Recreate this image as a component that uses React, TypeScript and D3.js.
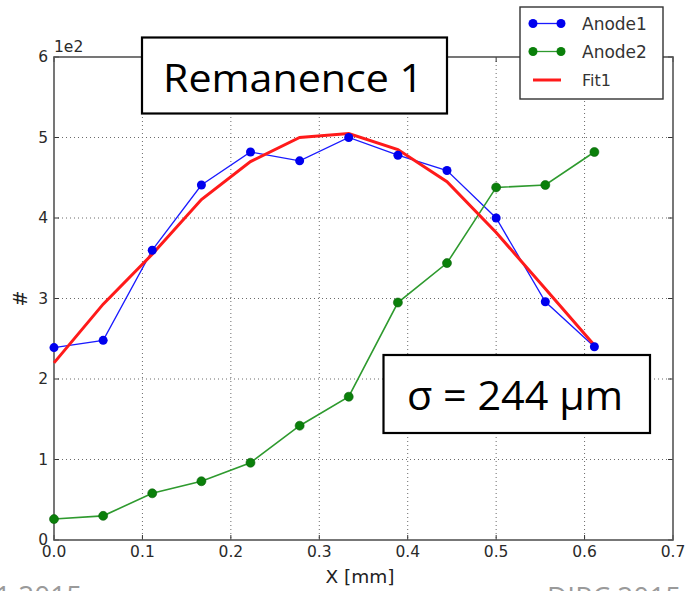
import React from "react";
import * as d3 from "d3";

// Positions along the scan (mm)
const xPos = [0, 0.0556, 0.1111, 0.1667, 0.2222, 0.2778, 0.3333, 0.3889, 0.4444, 0.5, 0.5556, 0.6111];
// Counts, in units of 1e2
const anode1 = [2.39, 2.48, 3.6, 4.41, 4.82, 4.71, 5.0, 4.78, 4.59, 4.0, 2.96, 2.4];
const anode2 = [0.26, 0.3, 0.58, 0.73, 0.96, 1.42, 1.78, 2.95, 3.44, 4.38, 4.41, 4.82];
const fit1 = [2.2, 2.93, 3.55, 4.23, 4.7, 5.0, 5.05, 4.85, 4.45, 3.82, 3.12, 2.42];

const xTicks = [0, 0.1, 0.2, 0.3, 0.4, 0.5, 0.6, 0.7];
const yTicks = [0, 1, 2, 3, 4, 5, 6];

const W = 685;
const H = 591;
const M = { left: 54, top: 57, right: 673, bottom: 540 };

const tickFont = "'DejaVu Sans', sans-serif";
const boxFont = "'Open Sans', 'Liberation Sans', sans-serif";

export default function App() {
  const x = d3.scaleLinear().domain([0, 0.7]).range([M.left, M.right]);
  const y = d3.scaleLinear().domain([0, 6]).range([M.bottom, M.top]);

  const line = d3
    .line<number>()
    .x((_, i) => x(xPos[i]))
    .y((d) => y(d));

  const gridColor = "#6a6a6a";
  const tickLen = 5;

  return (
    <svg
      width={W}
      height={H}
      style={{ position: "absolute", left: 0, top: 0, background: "#fff" }}
    >
      <rect x={0} y={0} width={W} height={H} fill="#fff" />

      {/* grid */}
      <g stroke={gridColor} strokeWidth={1} strokeDasharray="1,3">
        {xTicks.slice(1, -1).map((t) => (
          <line key={"gx" + t} x1={x(t)} x2={x(t)} y1={M.top} y2={M.bottom} />
        ))}
        {yTicks.slice(1, -1).map((t) => (
          <line key={"gy" + t} x1={M.left} x2={M.right} y1={y(t)} y2={y(t)} />
        ))}
      </g>

      {/* inward ticks */}
      <g stroke="#333" strokeWidth={1}>
        {xTicks.map((t) => (
          <g key={"tx" + t}>
            <line x1={x(t)} x2={x(t)} y1={M.bottom} y2={M.bottom - tickLen} />
            <line x1={x(t)} x2={x(t)} y1={M.top} y2={M.top + tickLen} />
          </g>
        ))}
        {yTicks.map((t) => (
          <g key={"ty" + t}>
            <line x1={M.left} x2={M.left + tickLen} y1={y(t)} y2={y(t)} />
            <line x1={M.right} x2={M.right - tickLen} y1={y(t)} y2={y(t)} />
          </g>
        ))}
      </g>

      {/* frame */}
      <rect
        x={M.left}
        y={M.top}
        width={M.right - M.left}
        height={M.bottom - M.top}
        fill="none"
        stroke="#555"
        strokeWidth={1.6}
      />

      {/* tick labels */}
      <g fontFamily={tickFont} fontSize={15.5} fill="#2a2a2a">
        {xTicks.map((t) => (
          <text key={"lx" + t} x={x(t)} y={557} textAnchor="middle">
            {t.toFixed(1)}
          </text>
        ))}
        {yTicks.map((t) => (
          <text key={"ly" + t} x={48} y={y(t) + 5} textAnchor="end">
            {t}
          </text>
        ))}
        <text x={M.left} y={52}>1e2</text>
      </g>

      {/* axis titles */}
      <text
        x={360}
        y={583}
        textAnchor="middle"
        fontFamily={tickFont}
        fontSize={18.5}
        fill="#222"
      >
        X [mm]
      </text>
      <text
        transform={`translate(27,${y(3)}) rotate(-90)`}
        textAnchor="middle"
        fontFamily={tickFont}
        fontSize={19}
        fill="#222"
      >
        #
      </text>

      {/* series */}
      <path d={line(anode1) ?? ""} fill="none" stroke="#1a1aff" strokeWidth={1.3} />
      <path d={line(anode2) ?? ""} fill="none" stroke="#2e9a2e" strokeWidth={1.6} />
      <path d={line(fit1) ?? ""} fill="none" stroke="#ff1a1a" strokeWidth={3} />
      {anode1.map((v, i) => (
        <circle key={"a1" + i} cx={x(xPos[i])} cy={y(v)} r={4.5} fill="#0000ee" />
      ))}
      {anode2.map((v, i) => (
        <circle
          key={"a2" + i}
          cx={x(xPos[i])}
          cy={y(v)}
          r={4.5}
          fill="#0a800a"
          stroke="#0a600a"
          strokeWidth={0.6}
        />
      ))}

      {/* legend */}
      <g>
        <rect x={520} y={7} width={143} height={92} fill="#fff" stroke="#333" strokeWidth={1.4} />
        {[
          { label: "Anode1", color: "#1a1aff", dot: "#0000ee", y: 23.5, marker: true },
          { label: "Anode2", color: "#2e9a2e", dot: "#0a800a", y: 51.5, marker: true },
          { label: "Fit1", color: "#ff1a1a", dot: "", y: 80, marker: false },
        ].map((e) => (
          <g key={e.label}>
            <line
              x1={533}
              x2={561}
              y1={e.y}
              y2={e.y}
              stroke={e.color}
              strokeWidth={e.marker ? 1.3 : 3}
            />
            {e.marker && (
              <>
                <circle cx={533} cy={e.y} r={4.5} fill={e.dot} />
                <circle cx={561} cy={e.y} r={4.5} fill={e.dot} />
              </>
            )}
            <text
              x={582}
              y={e.y + 6}
              fontFamily={tickFont}
              fontSize={e.marker ? 17 : 16}
              fill="#333"
            >
              {e.label}
            </text>
          </g>
        ))}
      </g>

      {/* annotation boxes */}
      <rect x={142} y={37.5} width={305} height={76} fill="#fff" stroke="#000" strokeWidth={2.2} />
      <text
        x={163}
        y={92}
        fontFamily={boxFont}
        fontSize={38}
        fill="#000"
        textLength={260}
        lengthAdjust="spacingAndGlyphs"
      >
        Remanence 1
      </text>

      <rect x={383.5} y={355} width={266.5} height={78} fill="#fff" stroke="#000" strokeWidth={2.2} />
      <text
        x={407}
        y={410}
        fontFamily={boxFont}
        fontSize={40}
        fill="#000"
        textLength={216}
        lengthAdjust="spacingAndGlyphs"
      >
        σ = 244 µm
      </text>

      {/* footer */}
      <text x={-5} y={606} fontFamily={boxFont} fontSize={28} fill="#9a9a9a">
        1 2015
      </text>
      <text x={547} y={607} fontFamily={boxFont} fontSize={28} fill="#9a9a9a">
        DIRC 2015
      </text>
    </svg>
  );
}
